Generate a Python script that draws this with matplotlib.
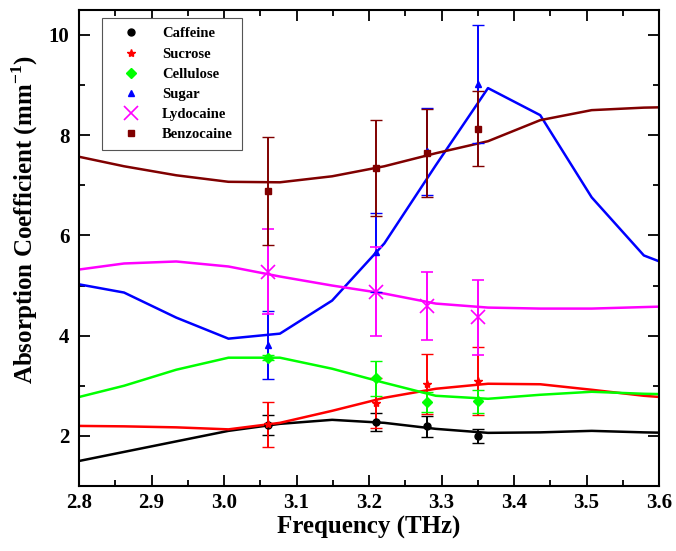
import matplotlib
matplotlib.use("Agg")
import matplotlib.pyplot as plt
from matplotlib.ticker import MultipleLocator

plt.rcParams['font.family'] = ['Liberation Serif', 'DejaVu Serif']
plt.rcParams['font.weight'] = 'bold'
plt.rcParams['mathtext.fontset'] = 'custom'
plt.rcParams['mathtext.rm'] = 'Liberation Serif:bold'
plt.rcParams['mathtext.bf'] = 'Liberation Serif:bold'

# Simulated spectra (continuous curves)
freq_line = [2.79, 2.862, 2.934, 3.006, 3.077, 3.149, 3.221, 3.292, 3.364, 3.436, 3.507, 3.579, 3.651]
caffeine_line = [1.47, 1.68, 1.89, 2.10, 2.24, 2.32, 2.26, 2.14, 2.06, 2.07, 2.10, 2.07, 2.05]
sucrose_line = [2.20, 2.19, 2.17, 2.13, 2.26, 2.50, 2.76, 2.94, 3.04, 3.03, 2.92, 2.80, 2.72]
cellulose_line = [2.74, 3.00, 3.32, 3.56, 3.56, 3.34, 3.06, 2.80, 2.74, 2.82, 2.88, 2.84, 2.82]
sugar_line = [5.05, 4.86, 4.36, 3.94, 4.04, 4.70, 5.84, 7.40, 8.94, 8.40, 6.76, 5.60, 5.20]
lydocaine_line = [5.30, 5.44, 5.48, 5.38, 5.18, 5.00, 4.84, 4.64, 4.56, 4.54, 4.54, 4.57, 4.60]
benzocaine_line = [7.60, 7.38, 7.20, 7.07, 7.06, 7.18, 7.38, 7.64, 7.88, 8.30, 8.50, 8.55, 8.57]

# Measured points with error bars
freq_pts = [3.06, 3.21, 3.28, 3.35]
caffeine_pts = [2.22, 2.28, 2.19, 1.99]
caffeine_err = [0.20, 0.18, 0.21, 0.14]
sucrose_pts = [2.23, 2.66, 3.03, 3.10]
sucrose_err = [0.45, 0.50, 0.60, 0.68]
cellulose_pts = [3.56, 3.15, 2.68, 2.69]
cellulose_err = [0.05, 0.35, 0.20, 0.23]
sugar_pts = [3.82, 5.66, 7.68, 9.02]
sugar_err = [0.68, 0.78, 0.87, 1.18]
lydocaine_pts = [5.28, 4.88, 4.60, 4.37]
lydocaine_err = [0.84, 0.88, 0.68, 0.75]
benzocaine_pts = [6.88, 7.34, 7.64, 8.13]
benzocaine_err = [1.08, 0.96, 0.88, 0.75]

names = ['Caffeine', 'Sucrose', 'Cellulose', 'Sugar', 'Lydocaine', 'Benzocaine']
colors = ['#000000', '#ff0000', '#00ff00', '#0000ff', '#ff00ff', '#800000']
markers = ['o', '*', 'D', '^', 'x', 's']
msizes = [5, 6, 5, 5, 10, 4.5]
lines = [caffeine_line, sucrose_line, cellulose_line, sugar_line, lydocaine_line, benzocaine_line]
pts = [caffeine_pts, sucrose_pts, cellulose_pts, sugar_pts, lydocaine_pts, benzocaine_pts]
errs = [caffeine_err, sucrose_err, cellulose_err, sugar_err, lydocaine_err, benzocaine_err]

fig = plt.figure(figsize=(6.76, 5.51), dpi=100)
ax = fig.add_axes([0.117, 0.118, 0.858, 0.864])

for name, c, m, ms, ln, p, e in zip(names, colors, markers, msizes, lines, pts, errs):
    ax.plot(freq_line, ln, color=c, lw=1.8, zorder=2)
    ax.errorbar(freq_pts, p, yerr=e, fmt=m, color=c, ms=ms, mew=1.2 if m == 'x' else 1.0,
                elinewidth=1.4, capsize=4.5, capthick=1.4, label=name, zorder=3)

ax.set_xlim(2.8, 3.6)
ax.set_ylim(1.0, 10.5)
ax.xaxis.set_major_locator(MultipleLocator(0.1))
ax.xaxis.set_minor_locator(MultipleLocator(0.05))
ax.yaxis.set_major_locator(MultipleLocator(2))
ax.yaxis.set_minor_locator(MultipleLocator(1))
ax.set_yticks([2, 4, 6, 8, 10])
ax.tick_params(which='both', direction='in', top=True, right=True, width=1.3)
ax.tick_params(which='major', length=8, labelsize=15)
ax.tick_params(axis='x', which='major', pad=5)
ax.tick_params(axis='y', which='major', pad=7)
ax.tick_params(which='minor', length=4)
for s in ax.spines.values():
    s.set_linewidth(1.5)

ax.set_xlabel('Frequency (THz)', fontsize=18, fontweight='bold', labelpad=2)
ax.set_ylabel(r'Absorption Coefficient (mm$^{-1}$)', fontsize=18, fontweight='bold')
ax.yaxis.set_label_coords(-0.068, 0.56)

handles, labels = ax.get_legend_handles_labels()
handles = [h[0] for h in handles]
leg = ax.legend(handles, labels, loc='upper left', bbox_to_anchor=(0.04, 0.982),
                prop={'family': 'Liberation Serif', 'weight': 'bold', 'size': 10.5},
                frameon=True, fancybox=False, edgecolor='#555555', framealpha=1,
                handlelength=2.8, handletextpad=0.7, borderpad=0.6, labelspacing=0.48,
                borderaxespad=0, markerscale=1.0)
leg.get_frame().set_linewidth(0.8)

fig.savefig('out.png', dpi=100)
